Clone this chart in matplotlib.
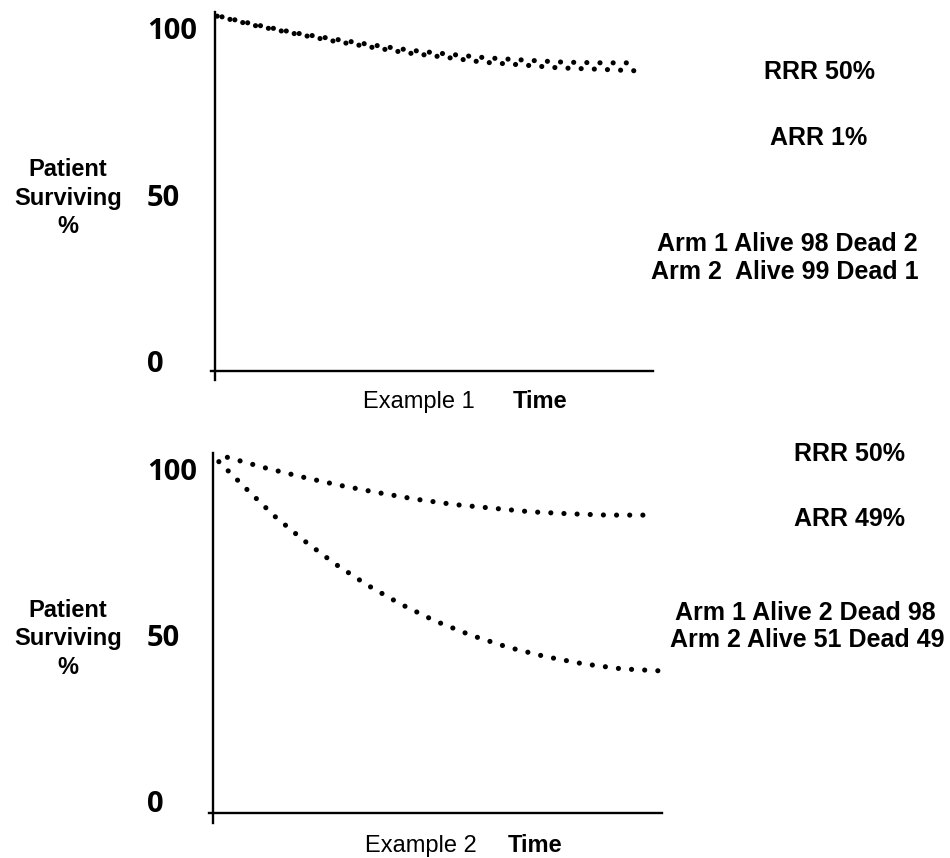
import matplotlib
matplotlib.use("Agg")
import matplotlib.pyplot as plt
import matplotlib.transforms as mtransforms

# survival curves (time 0-100, percent surviving)
t1_arm1 = [0.5, 8.7, 17.6, 26.3, 35.2, 43.8, 52.5, 61.2, 69.9, 78.5, 87.4, 96.3]
s1_arm1 = [104.6, 101.9, 99.5, 97.3, 95.4, 93.6, 92.3, 90.8, 90.0, 89.1, 88.7, 88.2]
t1_arm2 = [1.6, 9.8, 18.7, 27.4, 35.8, 44.5, 53.4, 62.1, 71.0, 79.7, 88.6, 94.3]
s1_arm2 = [104.4, 101.9, 99.5, 97.7, 96.0, 94.4, 93.2, 92.1, 91.4, 90.8, 90.6, 90.6]

t2_arm2 = [3.2, 11.4, 19.8, 28.1, 36.6, 45.1, 53.6, 62.1, 70.7, 79.3, 87.8, 96.4]
s2_arm2 = [104.7, 101.6, 98.8, 96.3, 94.1, 92.1, 90.5, 89.4, 88.3, 87.7, 87.3, 87.3]
t2_arm1 = [1.3, 7.5, 13.7, 20.3, 27.2, 34.4, 41.8, 49.5, 57.5, 65.7, 74.0, 82.5, 91.0, 99.5]
s2_arm1 = [103.4, 95.1, 87.0, 79.6, 72.6, 66.2, 60.5, 55.4, 51.1, 47.5, 44.7, 42.5, 41.0, 40.4]

yticks = [0, 50, 100]
ylabel = "Patient\nSurviving\n%"
examples = ["Example 1", "Example 2"]
notes1 = ["RRR 50%", "ARR 1%", "Arm 1 Alive 98 Dead 2", "Arm 2  Alive 99 Dead 1"]
notes2 = ["RRR 50%", "ARR 49%", "Arm 1 Alive 2 Dead 98", "Arm 2 Alive 51 Dead 49"]

W, H = 950, 858
fig = plt.figure(figsize=(W / 100, H / 100), dpi=100)


def fx(x):
    return x / W


def fy(y):
    return 1 - y / H


def make_axes(left, right, top, bottom, ylim, ext_down):
    ax = fig.add_axes([fx(left), fy(bottom), (right - left) / W, (bottom - top) / H])
    ax.set_xlim(0, 100)
    ax.set_ylim(*ylim)
    for s in ax.spines.values():
        s.set_visible(False)
    ax.set_xticks([])
    ax.set_yticks([])
    # hand drawn looking axis lines, crossing a little at the origin
    ax.plot([0, 0], [-ext_down, 1], color="black", lw=1.7, transform=ax.transAxes, clip_on=False)
    ax.plot([-0.009, 1], [0, 0], color="black", lw=1.7, transform=ax.transAxes, clip_on=False)
    trans = mtransforms.blended_transform_factory(ax.transAxes, ax.transData)
    xlab = (147 - left) / (right - left)
    for v in yticks:
        ax.text(xlab, v, str(v), transform=trans, ha="left", va="center",
                fontsize=21, fontweight="bold", family="Open Sans")
    return ax


dot = dict(color="black", lw=3.7, linestyle=(0, (0.01, 2.55)), dash_capstyle="round")

# top panel
ax1 = make_axes(215, 653, 12, 371, (-1.8, 105.85), 0.025)
ax1.plot(t1_arm1, s1_arm1, **dot)
ax1.plot(t1_arm2, s1_arm2, **dot)

# bottom panel
ax2 = make_axes(213, 662, 453, 813, (-2.41, 106.0), 0.028)
ax2.plot(t2_arm2, s2_arm2, **dot)
ax2.plot(t2_arm1, s2_arm1, **dot)

bold = dict(fontsize=17, fontweight="bold", family="Liberation Sans", ha="center", va="center")
fig.text(fx(68), fy(198), ylabel, linespacing=1.3, **bold)
fig.text(fx(68), fy(639), ylabel, linespacing=1.3, **bold)

# x labels
fig.text(fx(475), fy(408), examples[0], fontsize=17, family="Liberation Sans", ha="right", va="baseline")
fig.text(fx(513), fy(408), "Time", fontsize=17, fontweight="bold", family="Liberation Sans", ha="left", va="baseline")
fig.text(fx(477), fy(852), examples[1], fontsize=17, family="Liberation Sans", ha="right", va="baseline")
fig.text(fx(508), fy(852), "Time", fontsize=17, fontweight="bold", family="Liberation Sans", ha="left", va="baseline")

# side notes
note = dict(fontsize=18, fontweight="bold", family="Liberation Sans", ha="center", va="center")
for txt, (x, y) in zip(notes1, [(820, 72), (819, 138), (787, 244), (785, 272)]):
    fig.text(fx(x), fy(y), txt, **note)
for txt, (x, y) in zip(notes2, [(850, 454), (849, 519), (805, 613), (807, 640)]):
    fig.text(fx(x), fy(y), txt, **note)

fig.savefig("out.png", dpi=100)
